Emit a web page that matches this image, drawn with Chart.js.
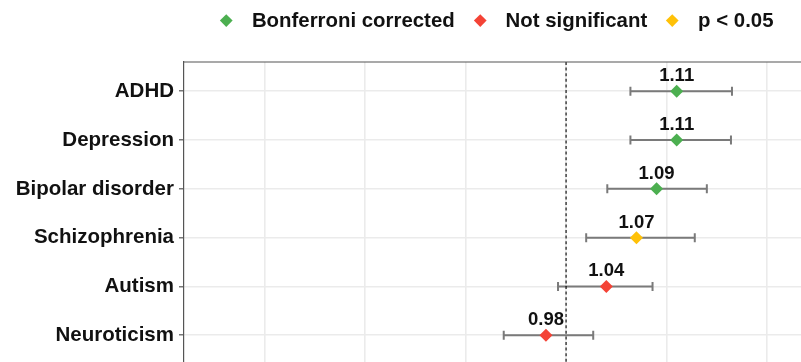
<!DOCTYPE html>
<html>
<head>
<meta charset="utf-8">
<script src="https://cdn.jsdelivr.net/npm/chart.js@4.4.0/dist/chart.umd.min.js"></script>
<style>
  html, body { margin: 0; padding: 0; background: #fff; overflow: hidden; width: 801px; height: 362px; }
  #wrap { position: absolute; left: 0; top: 0; width: 860px; height: 400px; }
  #legend {
    position: absolute; left: 222px; top: 6px; height: 28px;
    display: flex; align-items: center; white-space: nowrap;
    font: bold 20.4px "Liberation Sans", Arial, sans-serif; color: #111;
  }
  .item { display: flex; align-items: center; margin-right: 21px; }
  .mark { width: 8.5px; height: 8.5px; transform: rotate(45deg); margin-right: 21.4px; }
</style>
</head>
<body>
<div id="wrap">
  <canvas id="chart" width="860" height="400"></canvas>
  <div id="legend"></div>
</div>
<script>
// Forest plot: odds ratios with 95% confidence intervals per trait
const categories   = ['ADHD', 'Depression', 'Bipolar disorder', 'Schizophrenia', 'Autism', 'Neuroticism'];
const oddsRatio    = [1.11, 1.11, 1.09, 1.07, 1.04, 0.98];
const ciLower      = [1.064, 1.064, 1.041, 1.020, 0.992, 0.938];
const ciUpper      = [1.165, 1.164, 1.140, 1.128, 1.086, 1.027];
const significance = ['Bonferroni corrected', 'Bonferroni corrected', 'Bonferroni corrected',
                      'p < 0.05', 'Not significant', 'Not significant'];
const groups       = ['Bonferroni corrected', 'Not significant', 'p < 0.05'];
const groupColors  = ['#4CAF50', '#F44336', '#FFC107'];
const xTicks       = [0.7, 0.8, 0.9, 1.0, 1.1, 1.2];
const nullValue    = 1;

const FONT = '"Liberation Sans", Arial, sans-serif';

// legend
const legendEl = document.getElementById('legend');
groups.forEach((g, i) => {
  const item = document.createElement('div');
  item.className = 'item';
  const mark = document.createElement('div');
  mark.className = 'mark';
  mark.style.background = groupColors[i];
  const label = document.createElement('span');
  label.textContent = g;
  item.appendChild(mark);
  item.appendChild(label);
  legendEl.appendChild(item);
});

const datasets = groups.map((g, gi) => ({
  label: g,
  data: categories.map((c, i) => ({ x: oddsRatio[i], y: i + 1, row: i }))
                  .filter(p => significance[p.row] === g),
  backgroundColor: groupColors[gi],
  borderWidth: 0,
  pointStyle: 'rectRot',
  pointRadius: 6.5,
  pointHoverRadius: 6.5
}));

// confidence interval whiskers and the reference line at OR = 1
const intervalPlugin = {
  id: 'intervals',
  beforeDatasetsDraw(chart) {
    const { ctx, chartArea, scales: { x, y } } = chart;
    ctx.save();
    ctx.strokeStyle = '#7a7a7a';
    ctx.lineWidth = 2;
    categories.forEach((c, i) => {
      const yy = y.getPixelForValue(i + 1);
      const x0 = x.getPixelForValue(ciLower[i]);
      const x1 = x.getPixelForValue(ciUpper[i]);
      ctx.beginPath();
      ctx.moveTo(x0, yy); ctx.lineTo(x1, yy);
      ctx.moveTo(x0, yy - 4.5); ctx.lineTo(x0, yy + 4.5);
      ctx.moveTo(x1, yy - 4.5); ctx.lineTo(x1, yy + 4.5);
      ctx.stroke();
    });
    const xn = x.getPixelForValue(nullValue);
    ctx.strokeStyle = '#000';
    ctx.lineWidth = 1.1;
    ctx.setLineDash([3, 2.6]);
    ctx.beginPath();
    ctx.moveTo(xn, chartArea.top); ctx.lineTo(xn, chartArea.bottom);
    ctx.stroke();
    ctx.restore();
  },
  afterDatasetsDraw(chart) {
    const { ctx, scales: { x, y } } = chart;
    ctx.save();
    ctx.fillStyle = '#111';
    ctx.font = 'bold 18.5px ' + FONT;
    ctx.textAlign = 'center';
    ctx.textBaseline = 'alphabetic';
    categories.forEach((c, i) => {
      ctx.fillText(oddsRatio[i].toFixed(2), x.getPixelForValue(oddsRatio[i]), y.getPixelForValue(i + 1) - 10);
    });
    ctx.restore();
  },
  afterDraw(chart) {
    const { ctx, chartArea } = chart;
    ctx.save();
    ctx.strokeStyle = '#555';
    ctx.lineWidth = 1.2;
    ctx.beginPath();
    ctx.moveTo(chartArea.left, chartArea.top);
    ctx.lineTo(chartArea.right, chartArea.top);
    ctx.stroke();
    ctx.restore();
  }
};

new Chart(document.getElementById('chart'), {
  type: 'scatter',
  data: { datasets },
  plugins: [intervalPlugin],
  options: {
    responsive: false,
    animation: false,
    layout: { padding: { top: 62, bottom: 35.5, right: 12.4, left: 0 } },
    plugins: { legend: { display: false }, tooltip: { enabled: false } },
    scales: {
      x: {
        type: 'linear', min: 0.62, max: 1.28,
        afterBuildTicks: s => { s.ticks = xTicks.map(v => ({ value: v })); },
        ticks: { display: false },
        grid: { color: '#ebebeb', lineWidth: 1.6, drawTicks: false },
        border: { display: false }
      },
      y: {
        type: 'linear', reverse: true, min: 0.4, max: 6.6,
        afterBuildTicks: s => { s.ticks = categories.map((c, i) => ({ value: i + 1 })); },
        afterFit: s => { s.width = 184; },
        ticks: {
          callback: v => categories[v - 1],
          font: { family: FONT, size: 20.5, weight: 'bold' },
          color: '#111',
          padding: 5
        },
        grid: { color: '#ebebeb', lineWidth: 1.6, tickColor: '#555', tickLength: 5, tickWidth: 1.2 },
        border: { color: '#555', width: 1.2 }
      }
    }
  }
});
</script>
</body>
</html>
